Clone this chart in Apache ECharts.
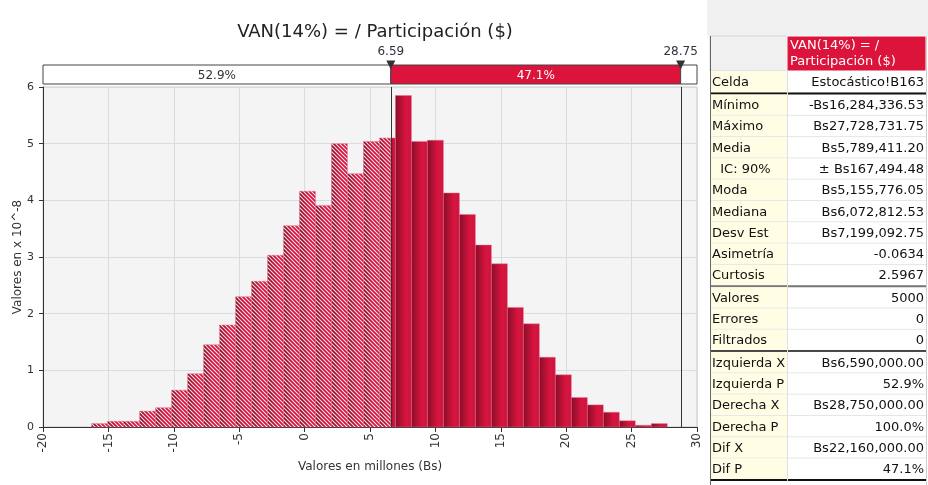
<!DOCTYPE html>
<html>
<head>
<meta charset="utf-8">
<script src="https://cdn.jsdelivr.net/npm/echarts@6/dist/echarts.min.js"></script>
<style>
  html, body { margin: 0; padding: 0; background: #fff; }
  #chart { width: 928px; height: 485px; }
</style>
</head>
<body>
<div id="chart"></div>
<script>
const FONT = '"DejaVu Sans", "Liberation Sans", sans-serif'

// histograma: 36 clases entre el mínimo y el máximo (millones de Bs), densidad x 10^-8
const valueMin = -16.28433653
const valueMax = 27.72873175
const densities = [
  0.06, 0.10, 0.10, 0.28, 0.34, 0.65, 0.94, 1.45, 1.80, 2.30, 2.57, 3.03,
  3.55, 4.16, 3.91, 5.00, 4.47, 5.04, 5.10, 5.85, 5.04, 5.06, 4.13, 3.75,
  3.21, 2.88, 2.11, 1.82, 1.23, 0.92, 0.52, 0.39, 0.26, 0.11, 0.03, 0.06
]
const leftX = 6.59
const rightX = 28.75
const leftLabel = '6.59'
const rightLabel = '28.75'
const bandTexts = ['52.9%', '47.1%', '']
const xMin = -20
const xMax = 30
const yMax = 6

// tabla de estadísticas
const statLabels = [
  'Celda', 'Mínimo', 'Máximo', 'Media', '  IC: 90%', 'Moda', 'Mediana', 'Desv Est',
  'Asimetría', 'Curtosis', 'Valores', 'Errores', 'Filtrados', 'Izquierda X',
  'Izquierda P', 'Derecha X', 'Derecha P', 'Dif X', 'Dif P'
]
const statValues = [
  'Estocástico!B163', '-Bs16,284,336.53', 'Bs27,728,731.75', 'Bs5,789,411.20',
  '± Bs167,494.48', 'Bs5,155,776.05', 'Bs6,072,812.53', 'Bs7,199,092.75',
  '-0.0634', '2.5967', '5000', '0', '0', 'Bs6,590,000.00', '52.9%',
  'Bs28,750,000.00', '100.0%', 'Bs22,160,000.00', '47.1%'
]
const headerLines = ['VAN(14%) = /', 'Participación ($)']

const CRIMSON = '#dc143c'

const binWidth = (valueMax - valueMin) / densities.length
const bins = densities.map((d, i) => [valueMin + i * binWidth, valueMin + (i + 1) * binWidth, d])
const bandData = [
  [xMin, leftX, bandTexts[0], 0],
  [leftX, rightX, bandTexts[1], 1],
  [rightX, xMax, bandTexts[2], 0]
]
const markers = [[leftX, leftLabel], [rightX, rightLabel]]

// patrón de rayado blanco
const hatch = document.createElement('canvas')
hatch.width = 4
hatch.height = 4
const hctx = hatch.getContext('2d')
hctx.strokeStyle = 'rgba(255,235,240,0.95)'
hctx.lineWidth = 1.1
hctx.beginPath()
hctx.moveTo(-1, -1); hctx.lineTo(5, 5)
hctx.moveTo(-1, 3); hctx.lineTo(1, 5)
hctx.moveTo(3, -1); hctx.lineTo(5, 1)
hctx.stroke()
const hatchPattern = { image: hatch, repeat: 'repeat' }

const barGradient = () =>
  new echarts.graphic.LinearGradient(0, 0, 1, 0, [
    { offset: 0, color: '#8a0c28' },
    { offset: 0.65, color: '#d8153f' },
    { offset: 1, color: '#cc1340' }
  ])

const renderBin = (params, api) => {
  const x0 = api.value(0)
  const x1 = api.value(1)
  const top = api.coord([x0, api.value(2)])[1]
  const bottom = api.coord([x0, 0])[1]
  const px0 = api.coord([x0, 0])[0]
  const px1 = api.coord([x1, 0])[0]
  const pc = api.coord([leftX, 0])[0]
  const children = []
  const addRect = (a, b, hatched) => {
    const shape = { x: a, y: top, width: b - a, height: bottom - top }
    children.push({
      type: 'rect',
      shape,
      style: { fill: barGradient(), stroke: 'rgba(235,110,135,0.7)', lineWidth: 0.6 }
    })
    if (hatched) children.push({ type: 'rect', shape, style: { fill: hatchPattern } })
  }
  if (px1 <= pc) addRect(px0, px1, true)
  else if (px0 >= pc) addRect(px0, px1, false)
  else {
    addRect(px0, pc, true)
    addRect(pc, px1, false)
  }
  return { type: 'group', children }
}

const renderBand = (params, api) => {
  const a = api.coord([api.value(0), 1])
  const b = api.coord([api.value(1), 0])
  const filled = api.value(3) === 1
  return {
    type: 'group',
    children: [
      {
        type: 'rect',
        shape: { x: a[0], y: a[1], width: b[0] - a[0], height: b[1] - a[1] },
        style: { fill: filled ? CRIMSON : '#fff', stroke: '#444', lineWidth: 1 }
      },
      {
        type: 'text',
        style: {
          text: api.value(2),
          x: (a[0] + b[0]) / 2,
          y: (a[1] + b[1]) / 2 + 1,
          align: 'center',
          verticalAlign: 'middle',
          fill: filled ? '#fff' : '#333',
          font: '12px ' + FONT
        }
      }
    ]
  }
}

const renderMarker = (params, api) => {
  const p = api.coord([api.value(0), 1])
  return {
    type: 'group',
    children: [
      {
        type: 'polygon',
        shape: { points: [[p[0] - 4.5, p[1] - 4.5], [p[0] + 4.5, p[1] - 4.5], [p[0], p[1] + 4.5]] },
        style: { fill: '#333' }
      },
      {
        type: 'text',
        style: {
          text: api.value(1),
          x: p[0],
          y: p[1] - 13,
          align: 'center',
          verticalAlign: 'middle',
          fill: '#2b3340',
          font: '12px ' + FONT
        }
      }
    ]
  }
}

const renderCut = (params, api) => {
  const a = api.coord([api.value(0), yMax])
  const b = api.coord([api.value(0), 0])
  return {
    type: 'line',
    shape: { x1: Math.round(a[0]) + 0.5, y1: a[1], x2: Math.round(b[0]) + 0.5, y2: b[1] },
    style: { stroke: '#333', lineWidth: 1 }
  }
}

// tabla como elementos gráficos
const buildTable = () => {
  const L = 710, M = 787, R = 926
  const tf = '13px ' + FONT
  const els = []
  els.push({ type: 'rect', shape: { x: 707, y: 0, width: 221, height: 36 }, style: { fill: '#f0f0f0' }, silent: true })
  els.push({ type: 'rect', shape: { x: L, y: 36, width: M - L, height: 35 }, style: { fill: '#f0f0f0', stroke: '#d6d6d6' } })
  els.push({ type: 'rect', shape: { x: M, y: 36, width: R - M, height: 35 }, style: { fill: CRIMSON, stroke: '#fff' } })
  headerLines.forEach((t, i) => {
    els.push({ type: 'text', style: { text: t, x: M + 3, y: 46 + i * 16, verticalAlign: 'middle', fill: '#fff', font: tf } })
  })
  const seps = { 0: ['#111', 2], 9: ['#777', 2], 12: ['#111', 1.5], 18: ['#111', 2] }
  let y = 71
  statLabels.forEach((label, i) => {
    const h = i === 0 ? 22.5 : 21.3
    els.push({ type: 'rect', shape: { x: L, y, width: M - L, height: h }, style: { fill: '#fffde4' } })
    els.push({ type: 'line', shape: { x1: L, y1: y + h - 0.5, x2: R, y2: y + h - 0.5 }, style: { stroke: '#e6e6e6' } })
    els.push({ type: 'text', style: { text: label, x: L + 2, y: y + h / 2 + 0.5, verticalAlign: 'middle', fill: '#111', font: tf } })
    els.push({ type: 'text', style: { text: statValues[i], x: R - 2, y: y + h / 2 + 0.5, align: 'right', verticalAlign: 'middle', fill: '#111', font: tf } })
    y += h
    if (seps[i]) {
      els.push({ type: 'line', shape: { x1: L, y1: y, x2: R, y2: y }, style: { stroke: seps[i][0], lineWidth: seps[i][1] } })
      y += 1
    }
  })
  els.push({ type: 'line', shape: { x1: M + 0.5, y1: 71, x2: M + 0.5, y2: y }, style: { stroke: '#e0e0e0' } })
  els.push({ type: 'line', shape: { x1: L + 0.5, y1: 36, x2: L + 0.5, y2: 485 }, style: { stroke: '#666' } })
  els.push({ type: 'line', shape: { x1: R + 0.5, y1: 36, x2: R + 0.5, y2: 485 }, style: { stroke: '#d0d0d0' } })
  return els
}

const chart = echarts.init(document.getElementById('chart'), null, { renderer: 'canvas' })

const option = {
  animation: false,
  textStyle: { fontFamily: FONT },
  title: {
    text: 'VAN(14%) = / Participación ($)',
    left: 370,
    top: 18,
    textAlign: 'center',
    textStyle: { fontSize: 18, fontWeight: 'normal', color: '#222', fontFamily: FONT }
  },
  grid: [
    {
      left: 43, right: 231, top: 87, bottom: 58, outerBoundsMode: 'none',
      show: true, backgroundColor: '#f4f4f4', borderColor: '#c8c8c8', borderWidth: 1
    },
    { left: 43, right: 231, top: 65, height: 19, outerBoundsMode: 'none' }
  ],
  xAxis: [
    {
      type: 'value', min: xMin, max: xMax, interval: 5, gridIndex: 0,
      name: 'Valores en millones (Bs)', nameLocation: 'middle', nameGap: 34,
      nameTextStyle: { fontSize: 12, color: '#333', fontFamily: FONT },
      axisLine: { show: true, onZero: false, lineStyle: { color: '#333' } },
      axisTick: { show: true, length: 5, lineStyle: { color: '#333' } },
      axisLabel: { rotate: 90, margin: 6, fontSize: 12, color: '#333', fontFamily: FONT },
      splitLine: { show: true, lineStyle: { color: '#dcdcdc' } }
    },
    { type: 'value', min: xMin, max: xMax, gridIndex: 1, show: false }
  ],
  yAxis: [
    {
      type: 'value', min: 0, max: yMax, interval: 1, gridIndex: 0,
      name: 'Valores en x 10^-8', nameLocation: 'middle', nameGap: 19, nameMoveOverlap: false,
      nameTextStyle: { fontSize: 12, color: '#333', fontFamily: FONT },
      axisLine: { show: true, onZero: false, lineStyle: { color: '#333' } },
      axisTick: { show: true, length: 4, lineStyle: { color: '#333' } },
      axisLabel: { margin: 9, fontSize: 11, color: '#333', fontFamily: FONT },
      splitLine: { show: true, lineStyle: { color: '#dcdcdc' } }
    },
    { type: 'value', min: 0, max: 1, gridIndex: 1, show: false }
  ],
  series: [
    {
      type: 'custom', xAxisIndex: 0, yAxisIndex: 0,
      renderItem: renderBin, data: bins, silent: true, z: 2
    },
    {
      type: 'custom', xAxisIndex: 0, yAxisIndex: 0,
      renderItem: renderCut, data: [leftX, rightX].map((v) => [v]), silent: true, z: 3
    },
    {
      type: 'custom', xAxisIndex: 1, yAxisIndex: 1, clip: false,
      renderItem: renderBand, data: bandData, silent: true, z: 3
    },
    {
      type: 'custom', xAxisIndex: 1, yAxisIndex: 1, clip: false,
      renderItem: renderMarker, data: markers, silent: true, z: 4
    }
  ],
  graphic: { elements: buildTable() }
}

chart.setOption(option)
</script>
</body>
</html>
